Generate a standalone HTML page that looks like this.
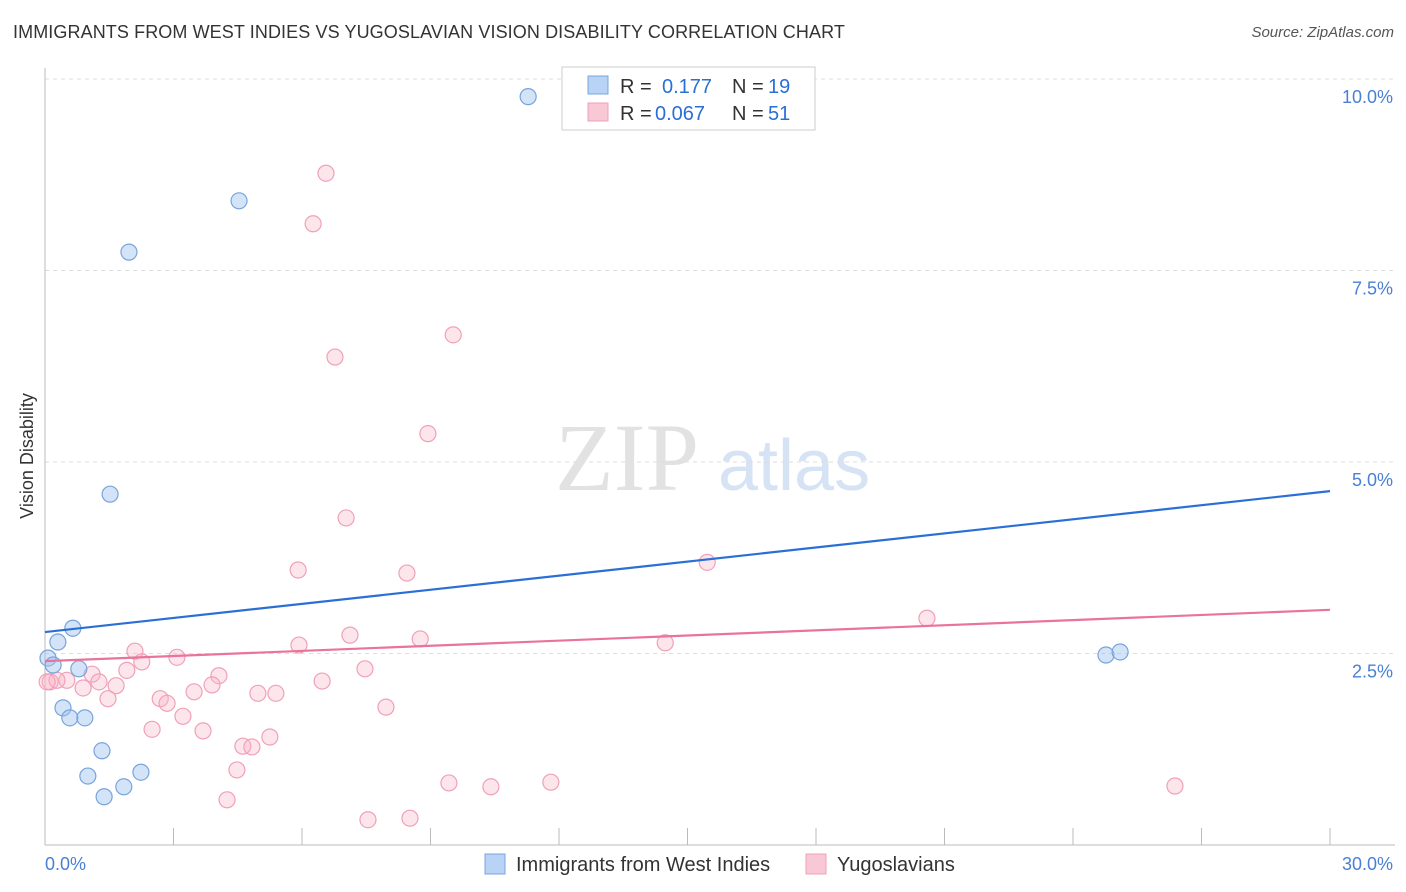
<!DOCTYPE html>
<html><head><meta charset="utf-8">
<style>
body{margin:0;background:#fff;font-family:"Liberation Sans",sans-serif;}
#wrap{position:relative;width:1406px;height:892px;overflow:hidden;}
.title{position:absolute;left:13px;top:22px;font-size:18px;color:#333;letter-spacing:0.1px}
.src{position:absolute;right:12px;top:24px;font-size:15px;color:#555;font-style:italic}
</style></head><body>
<div id="wrap">
<div class="title">IMMIGRANTS FROM WEST INDIES VS YUGOSLAVIAN VISION DISABILITY CORRELATION CHART</div>
<div class="src">Source: ZipAtlas.com</div>
<svg id="svg" width="1406" height="892" style="position:absolute;left:0;top:0"></svg>
</div>
<script>
const yTicks=[2.5,5.0,7.5,10.0];
const yTickLabels=["2.5%","5.0%","7.5%","10.0%"];
const xTickCount=[0,3,6,9,12,15,18,21,24,27,30];
const blueX=[11.28,4.53,1.96,1.52,0.65,0.30,0.07,0.19,0.79,0.42,0.58,0.93,1.33,1.00,2.24,1.84,1.38,24.77,25.10];
const blueY=[9.77,8.41,7.74,4.58,2.83,2.65,2.44,2.35,2.30,1.79,1.66,1.66,1.23,0.90,0.95,0.76,0.63,2.48,2.52];
const pinkX=[6.56,6.26,9.53,6.77,8.94,7.03,5.91,8.45,15.46,20.59,7.12,5.93,8.76,14.48,2.10,2.26,3.08,1.91,4.06,7.47,1.10,1.26,1.66,0.89,0.51,0.12,0.28,3.90,3.48,2.69,2.85,1.47,6.47,4.97,5.39,3.22,2.50,3.69,7.96,5.25,4.62,4.83,4.48,4.25,9.43,10.41,11.81,7.54,8.52,26.38,0.05];
const pinkY=[8.77,8.11,6.66,6.37,5.37,4.27,3.59,3.55,3.69,2.96,2.74,2.61,2.69,2.64,2.53,2.39,2.45,2.28,2.21,2.30,2.23,2.13,2.08,2.05,2.15,2.13,2.15,2.09,2.00,1.91,1.85,1.91,2.14,1.98,1.98,1.68,1.51,1.49,1.80,1.41,1.29,1.28,0.98,0.59,0.81,0.76,0.82,0.33,0.35,0.77,2.13];
const blueLine=[2.78,4.62];
const pinkLine=[2.40,3.07];
const X=v=>45+v*(1285/30);
const Y=v=>845-v*76.6;
const svg=document.getElementById('svg');
const NS='http://www.w3.org/2000/svg';
function mk(t,a,p){const e=document.createElementNS(NS,t);for(const k in a)e.setAttribute(k,a[k]);(p||svg).appendChild(e);return e;}
let w=mk('text',{x:555,y:490,'font-size':96,fill:'#e2e2e2','font-family':'Liberation Serif'});w.textContent='ZIP';


let w2=mk('text',{x:718,y:490,'font-size':72,fill:'#d5e3f5','font-family':'Liberation Sans'});w2.textContent='atlas';


mk('line',{x1:45,y1:79,x2:1395,y2:79,stroke:'#ddd','stroke-dasharray':'4,4'});
yTicks.forEach((t,i)=>{
 const g=mk('line',{x1:45,y1:Y(t),x2:1395,y2:Y(t),stroke:'#ddd','stroke-dasharray':'4,4'});
 
 
 const l=mk('text',{x:1393,y:Y(t)+24,'text-anchor':'end','font-size':18,fill:'#4a7fd4'});l.textContent=yTickLabels[i];
 
 
});
mk('line',{x1:45,y1:68,x2:45,y2:845,stroke:'#bbb'});
mk('line',{x1:45,y1:845,x2:1395,y2:845,stroke:'#bbb'});
xTickCount.forEach(t=>{const tk=mk('line',{x1:X(t),y1:828,x2:X(t),y2:845,stroke:'#bbb'});
 
 });
let xl=mk('text',{x:45,y:870,'font-size':18,fill:'#4a7fd4'});xl.textContent='0.0%';


let xr=mk('text',{x:1393,y:870,'text-anchor':'end','font-size':18,fill:'#4a7fd4'});xr.textContent='30.0%';


let yt=mk('text',{x:33,y:456,'font-size':18,fill:'#333','text-anchor':'middle',transform:'rotate(-90 33 456)'});yt.textContent='Vision Disability';


pinkX.forEach((v,i)=>{const c=mk('circle',{cx:X(v),cy:Y(pinkY[i]),r:8,fill:'rgba(248,180,200,0.35)',stroke:'#f0a0b8','stroke-width':1.2});
 
 });
blueX.forEach((v,i)=>{const c=mk('circle',{cx:X(v),cy:Y(blueY[i]),r:8,fill:'rgba(160,196,240,0.45)',stroke:'#78a4dc','stroke-width':1.2});
 
 });
let bl=mk('line',{x1:X(0),y1:Y(blueLine[0]),x2:X(30),y2:Y(blueLine[1]),stroke:'#2a6fd6','stroke-width':2.2});


let pl=mk('line',{x1:X(0),y1:Y(pinkLine[0]),x2:X(30),y2:Y(pinkLine[1]),stroke:'#e8749c','stroke-width':2.2});


let lg=mk('rect',{x:562,y:67,width:253,height:63,fill:'#fff',stroke:'#ccc'});


mk('rect',{x:588,y:76,width:20,height:18,fill:'#b8d3f5',stroke:'#78a4dc'});
mk('rect',{x:588,y:103,width:20,height:18,fill:'#f9c8d6',stroke:'#f0a0b8'});
function tx(x,y,s,c,n){const t=mk('text',{x:x,y:y,'font-size':20,fill:c});t.textContent=s;
 
 return t;}
tx(620,93,'R =','#333','legend-r-label');tx(662,93,'0.177','#2a6fd6','legend-r-blue');tx(732,93,'N =','#333','legend-n-label');tx(768,93,'19','#2a6fd6','legend-n-blue');
tx(620,120,'R =','#333','legend-r-label');tx(655,120,'0.067','#2a6fd6','legend-r-pink');tx(732,120,'N =','#333','legend-n-label');tx(768,120,'51','#2a6fd6','legend-n-pink');
mk('rect',{x:485,y:854,width:20,height:20,fill:'#b8d3f5',stroke:'#78a4dc'});
tx(516,871,'Immigrants from West Indies','#333','legend-west-indies');
mk('rect',{x:806,y:854,width:20,height:20,fill:'#f9c8d6',stroke:'#f0a0b8'});
tx(837,871,'Yugoslavians','#333','legend-yugoslavians');
</script>
</body></html>
